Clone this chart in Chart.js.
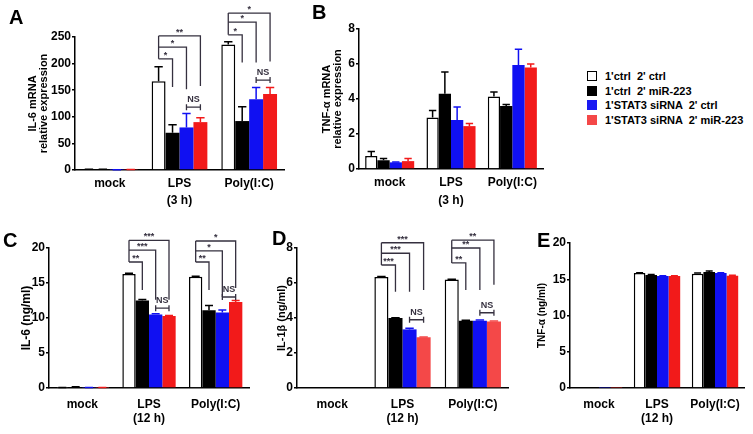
<!DOCTYPE html>
<html>
<head>
<meta charset="utf-8">
<script src="https://cdn.jsdelivr.net/npm/chart.js"></script>
<style>
    body { margin: 0; background: #fff; }
    #page { position: relative; width: 753px; height: 434px; overflow: hidden; font-family: "Liberation Sans", Arial, sans-serif; font-weight: bold; }
    canvas { position: absolute; }
    .tag { position: absolute; font-size: 20px; line-height: 20px; }
    #legend { position: absolute; left: 587px; top: 69px; font-size: 11px; }
    #legend div { height: 14.5px; line-height: 14px; white-space: pre; }
    #legend span { display: inline-block; width: 10px; height: 10px; margin-right: 8px; vertical-align: -1px; box-sizing: border-box; }
</style>
</head>
<body>
<div id="page">
    <canvas id="cA" width="300" height="215" style="left:0;top:0"></canvas>
    <canvas id="cB" width="260" height="215" style="left:290px;top:0"></canvas>
    <canvas id="cC" width="260" height="212" style="left:0;top:222px"></canvas>
    <canvas id="cD" width="260" height="212" style="left:255px;top:222px"></canvas>
    <canvas id="cE" width="238" height="212" style="left:515px;top:222px"></canvas>
    <div class="tag" style="left:9px;top:7px">A</div>
    <div class="tag" style="left:312px;top:2px">B</div>
    <div class="tag" style="left:3px;top:230px">C</div>
    <div class="tag" style="left:272px;top:228px">D</div>
    <div class="tag" style="left:537px;top:230px">E</div>
    <div id="legend"></div>
</div>
<script>
    // groups and series
    const groups = ['mock', 'LPS', 'Poly(I:C)'];
    const seriesNames = ["1'ctrl  2' ctrl", "1'ctrl  2' miR-223", "1'STAT3 siRNA  2' ctrl", "1'STAT3 siRNA  2' miR-223"];
    const fills = ['#ffffff', '#000000', '#1010f2', '#f21a1a'];

    // A: IL-6 mRNA (3 h)  - one row per series, values for mock / LPS / Poly(I:C)
    const aMean = [[1.2, 167, 236], [1.2, 70, 92], [0.5, 80, 133], [0.8, 90, 143]];
    const aErr  = [[0.3, 27, 5], [0.2, 15, 27], [0.2, 26, 22], [0.2, 8, 12]];
    // B: TNF-a mRNA (3 h)
    const bMean = [[0.75, 2.95, 4.15], [0.5, 4.3, 3.6], [0.38, 2.8, 5.95], [0.45, 2.45, 5.8]];
    const bErr  = [[0.25, 0.4, 0.25], [0.1, 1.25, 0.08], [0.02, 0.75, 0.9], [0.15, 0.15, 0.2]];
    // C: IL-6 (12 h)
    const cMean = [[0.05, 16.3, 15.9], [0.12, 12.5, 11.1], [0.05, 10.5, 10.8], [0.05, 10.3, 12.3]];
    const cErr  = [[0.02, 0.1, 0.05], [0.05, 0.15, 0.7], [0.02, 0.1, 0.35], [0.02, 0.05, 0.2]];
    // D: IL-1b (12 h)
    const dMean = [[0, 6.35, 6.2], [0, 4.0, 3.85], [0, 3.35, 3.85], [0, 2.9, 3.8]];
    const dErr  = [[0, 0.02, 0.02], [0, 0.02, 0.02], [0, 0.07, 0.03], [0, 0.02, 0.03]];
    // E: TNF-a (12 h)
    const eMean = [[0, 15.85, 15.75], [0, 15.6, 16.0], [0.05, 15.45, 15.85], [0.05, 15.45, 15.5]];
    const eErr  = [[0, 0.05, 0.1], [0, 0.05, 0.15], [0, 0.05, 0.05], [0, 0.05, 0.05]];

    // significance brackets: from ctrl bar to series "to", level / end in data units
    const sigA = [
        { cat: 1, ns: 118, marks: [{ to: 1, level: 209, end: 156, text: '*' }, { to: 2, level: 231, end: 152, text: '*' }, { to: 3, level: 252, end: 158, text: '**' }] },
        { cat: 2, ns: 169, marks: [{ to: 1, level: 254, end: 202, text: '*' }, { to: 2, level: 278, end: 202, text: '*' }, { to: 3, level: 295, end: 204, text: '*' }] }
    ];
    const sigC = [
        { cat: 1, ns: 11.4, marks: [{ to: 1, level: 18.0, end: 14.0, text: '**' }, { to: 2, level: 19.7, end: 12.6, text: '***' }, { to: 3, level: 21.1, end: 12.6, text: '***' }] },
        { cat: 2, ns: 13.0, marks: [{ to: 1, level: 18.0, end: 14.0, text: '**' }, { to: 2, level: 19.6, end: 13.0, text: '*' }, { to: 3, level: 21.0, end: 14.3, text: '*' }] }
    ];
    const sigD = [
        { cat: 1, ns: 3.9, marks: [{ to: 1, level: 7.03, end: 5.5, text: '***' }, { to: 2, level: 7.7, end: 5.5, text: '***' }, { to: 3, level: 8.3, end: 5.6, text: '***' }] },
        { cat: 2, ns: 4.3, marks: [{ to: 1, level: 7.15, end: 5.6, text: '**' }, { to: 2, level: 8.0, end: 5.6, text: '**' }, { to: 3, level: 8.45, end: 5.9, text: '**' }] }
    ];

    const FONT = "'Liberation Sans', Arial, sans-serif";
    Chart.defaults.font.family = FONT;
    Chart.defaults.font.weight = 'bold';
    Chart.defaults.color = '#000';

    // upper error whiskers
    const errorBars = {
        id: 'errorBars',
        afterDatasetsDraw(chart) {
            const ctx = chart.ctx;
            const y = chart.scales.y;
            chart.data.datasets.forEach((ds, i) => {
                chart.getDatasetMeta(i).data.forEach((bar, j) => {
                    const e = ds.errs[j];
                    if (!e) return;
                    const top = y.getPixelForValue(ds.data[j] + e);
                    const w = bar.width * 0.3;
                    ctx.save();
                    ctx.strokeStyle = i === 0 ? '#000' : ds.backgroundColor;
                    ctx.lineWidth = 1.5;
                    ctx.beginPath();
                    ctx.moveTo(bar.x, bar.y);
                    ctx.lineTo(bar.x, top);
                    ctx.moveTo(bar.x - w, top);
                    ctx.lineTo(bar.x + w, top);
                    ctx.stroke();
                    ctx.restore();
                });
            });
        }
    };

    function makeBrackets(sig) {
        return {
            id: 'brackets',
            afterDatasetsDraw(chart) {
                const ctx = chart.ctx;
                const y = chart.scales.y;
                const xOf = (d, c) => chart.getDatasetMeta(d).data[c].x;
                ctx.save();
                ctx.strokeStyle = ctx.fillStyle = '#35303f';
                ctx.lineWidth = 1.3;
                ctx.font = 'bold 9px ' + FONT;
                ctx.textAlign = 'center';
                ctx.textBaseline = 'bottom';
                sig.forEach(g => {
                    const x0 = xOf(0, g.cat);
                    const levels = g.marks.map(m => m.level);
                    ctx.beginPath();
                    ctx.moveTo(x0, y.getPixelForValue(Math.max(...levels)));
                    ctx.lineTo(x0, y.getPixelForValue(Math.min(...levels)));
                    ctx.stroke();
                    g.marks.forEach(m => {
                        const x1 = xOf(m.to, g.cat);
                        const yl = y.getPixelForValue(m.level);
                        ctx.beginPath();
                        ctx.moveTo(x0, yl);
                        ctx.lineTo(x1, yl);
                        ctx.lineTo(x1, y.getPixelForValue(m.end));
                        ctx.stroke();
                        ctx.fillText(m.text, (x0 + x1) / 2, yl + 1);
                    });
                    const a = xOf(2, g.cat), b = xOf(3, g.cat), yn = y.getPixelForValue(g.ns);
                    ctx.beginPath();
                    ctx.moveTo(a, yn); ctx.lineTo(b, yn);
                    ctx.moveTo(a, yn - 3); ctx.lineTo(a, yn + 3);
                    ctx.moveTo(b, yn - 3); ctx.lineTo(b, yn + 3);
                    ctx.stroke();
                    ctx.fillText('NS', (a + b) / 2, yn - 3);
                });
                ctx.restore();
            }
        };
    }

    function makePanel(id, means, errs, sig, o) {
        const red = o.red || fills[3];
        return new Chart(document.getElementById(id), {
            type: 'bar',
            data: {
                labels: groups,
                datasets: means.map((m, i) => ({
                    label: seriesNames[i],
                    data: m,
                    errs: errs[i],
                    backgroundColor: i === 3 ? red : fills[i],
                    borderColor: i === 0 ? '#000' : (i === 3 ? red : fills[i]),
                    borderWidth: i === 0 ? 1.5 : 0,
                    categoryPercentage: 0.8,
                    barPercentage: 1.0
                }))
            },
            options: {
                responsive: false,
                animation: false,
                events: [],
                layout: { padding: { top: o.top, right: o.right, left: 0, bottom: 0 } },
                plugins: { legend: { display: false }, tooltip: { enabled: false } },
                scales: {
                    x: {
                        grid: { display: false, drawTicks: false },
                        border: { display: true, color: '#000', width: 1.5 },
                        ticks: { font: { size: 12, weight: 'bold' }, padding: o.xpad, maxRotation: 0 },
                        title: { display: true, text: o.xtitle, font: { size: 12, weight: 'bold' }, padding: { top: 0, bottom: o.tpadB } },
                        afterFit: s => { s.height = o.xh; }
                    },
                    y: {
                        min: 0,
                        max: o.max,
                        ticks: { stepSize: o.step, font: { size: 12, weight: 'bold' }, padding: 1 },
                        grid: { display: true, drawOnChartArea: false, drawTicks: true, tickLength: 3, color: '#000', lineWidth: 1.5 },
                        border: { display: true, color: '#000', width: 1.5 },
                        title: { display: true, text: o.ytitle, font: { size: o.ysize, weight: 'bold', lineHeight: 1.0 }, padding: { top: o.ypad, bottom: 0 } },
                        afterFit: s => { s.width = o.yw; }
                    }
                }
            },
            plugins: sig ? [errorBars, makeBrackets(sig)] : [errorBars]
        });
    }

    makePanel('cA', aMean, aErr, sigA, { top: 37, right: 16, xh: 45, xpad: 6, xtitle: '(3 h)', tpadB: 7, max: 250, step: 50, ytitle: ['IL-6 mRNA', 'relative expression'], ysize: 11, ypad: 27, yw: 75 });
    makePanel('cB', bMean, bErr, null, { top: 29, right: 7, xh: 46, xpad: 6, xtitle: '(3 h)', tpadB: 7, max: 8, step: 2, ytitle: ['TNF-\u03b1 mRNA', 'relative expression'], ysize: 11, ypad: 31, yw: 69 });
    makePanel('cC', cMean, cErr, sigC, { top: 26, right: 11, xh: 46, xpad: 9, xtitle: '(12 h)', tpadB: 8, max: 20, step: 5, ytitle: 'IL-6 (ng/ml)', ysize: 12, ypad: 21, yw: 49 });
    makePanel('cD', dMean, dErr, sigD, { top: 26, right: 7, xh: 46, xpad: 9, xtitle: '(12 h)', tpadB: 8, max: 8, step: 2, ytitle: 'IL-1\u03b2 (ng/ml)', ysize: 11, ypad: 21, yw: 42, red: '#f44848' });
    makePanel('cE', eMean, eErr, null, { top: 21, right: 9, xh: 46, xpad: 9, xtitle: '(12 h)', tpadB: 8, max: 20, step: 5, ytitle: 'TNF-\u03b1 (ng/ml)', ysize: 10, ypad: 22, yw: 55 });

    // legend
    const legendEl = document.getElementById('legend');
    const legendFills = ['#ffffff', '#000000', '#1a1af2', '#f44848'];
    seriesNames.forEach((name, i) => {
        const row = document.createElement('div');
        const sw = document.createElement('span');
        sw.style.background = legendFills[i];
        if (i === 0) sw.style.border = '1.5px solid #000';
        row.appendChild(sw);
        row.appendChild(document.createTextNode(name));
        legendEl.appendChild(row);
    });
</script>
</body>
</html>
